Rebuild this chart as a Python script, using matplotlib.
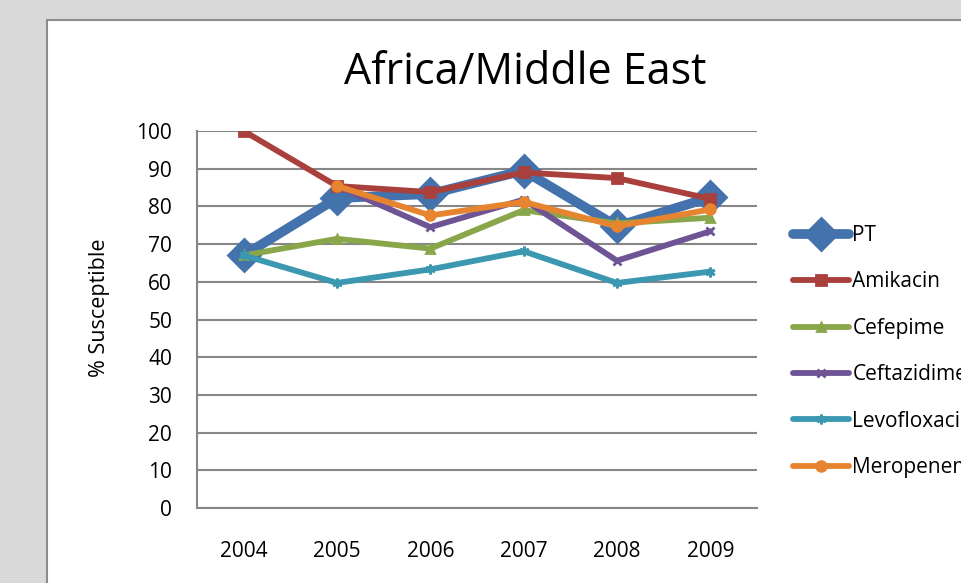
import matplotlib.pyplot as plt
import matplotlib.patches as mpatches
import numpy as np

# % susceptible by year, Africa/Middle East
years = ["2004", "2005", "2006", "2007", "2008", "2009"]
pt = [67.0, 82.2, 83.3, 89.5, 74.7, 82.4]
amikacin = [100.0, 85.4, 83.8, 89.0, 87.5, 82.0]
cefepime = [67.0, 71.4, 68.8, 79.0, 75.5, 77.0]
ceftazidime = [np.nan, 85.4, 74.5, 81.8, 65.6, 73.4]
levofloxacin = [67.0, 59.7, 63.3, 68.1, 59.7, 62.7]
meropenem = [np.nan, 85.4, 77.6, 81.2, 74.7, 79.2]

plt.rcParams['font.family'] = ['Open Sans', 'DejaVu Sans']

fig = plt.figure(figsize=(9.61, 5.83), dpi=100, facecolor="#d9d9d9")

# white chart panel with grey frame
panel = mpatches.Rectangle((47 / 961, -0.1), 1.0, 1 - 20 / 583 + 0.1,
                           transform=fig.transFigure, facecolor="white",
                           edgecolor="#8c8c8c", linewidth=1.5, zorder=-5)
fig.patches.append(panel)

ax = fig.add_axes([197 / 961, 75 / 583, 560 / 961, 377 / 583])
ax.set_facecolor("none")

x = np.arange(len(years))
series = [
    ("PT", pt, "#4472ac", "D", 16, 7.0),
    ("Amikacin", amikacin, "#aa403c", "s", 7, 4.2),
    ("Cefepime", cefepime, "#8aa64b", "^", 6, 4.2),
    ("Ceftazidime", ceftazidime, "#6e5494", "x", 6, 4.2),
    ("Levofloxacin", levofloxacin, "#3b98b0", (6, 2, 0), 7, 4.2),
    ("Meropenem", meropenem, "#e7842f", "o", 7, 4.2),
]
for name, vals, col, mk, ms, lw in series:
    ax.plot(x, vals, color=col, lw=lw, marker=mk, markersize=ms,
            markeredgecolor=col, markerfacecolor=col, markeredgewidth=2,
            solid_joinstyle="round", solid_capstyle="round", label=name)

ax.set_xlim(-0.5, 5.5)
ax.set_ylim(0, 100)
ax.set_yticks(range(0, 101, 10))
ax.set_xticks(x)
ax.set_xticklabels(years)
ax.yaxis.grid(True, color="#878787", lw=1.5)
ax.set_axisbelow(True)
for side in ["top", "right"]:
    ax.spines[side].set_visible(False)
for side in ["left", "bottom"]:
    ax.spines[side].set_color("#878787")
    ax.spines[side].set_linewidth(1.5)
ax.tick_params(axis="both", length=0, labelsize=15, colors="black")
ax.tick_params(axis="y", pad=18)
ax.tick_params(axis="x", pad=24)

fig.text(100 / 961, 1 - 308 / 583, "% Susceptible", fontsize=15.5,
         rotation=90, ha="center", va="center")
fig.text(525 / 961, 1 - 73 / 583, "Africa/Middle East", fontsize=31,
         ha="center", va="center")

# legend runs off the right edge of the panel
leg = ax.legend(loc="upper left", bbox_to_anchor=(793 / 961, 1 - 225 / 583),
                bbox_transform=fig.transFigure, frameon=False, fontsize=15,
                labelspacing=1.22, handlelength=2.7, handletextpad=0.15,
                borderpad=0, borderaxespad=0)

fig.savefig("out.png", dpi=100, facecolor=fig.get_facecolor())
